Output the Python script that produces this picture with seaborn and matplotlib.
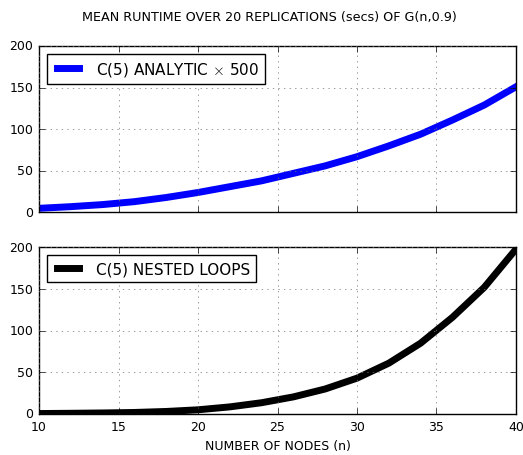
import matplotlib
matplotlib.use("Agg")
import matplotlib.pyplot as plt
import numpy as np
import pandas as pd
import seaborn as sns

# graph sizes n used in the runs
nodes = [10, 12, 14, 16, 18, 20, 22, 24, 26, 28, 30, 32, 34, 36, 38, 40]
# mean runtime (secs), analytic version scaled by 500
analytic_x500 = [5, 7, 9.5, 13, 18, 24, 31, 38, 47, 56, 67, 80, 94, 111, 129, 151]
# mean runtime (secs), nested loops version
nested_loops = [0.5, 0.8, 1.2, 1.8, 3, 5, 8.5, 13.5, 20.5, 30, 43, 61, 85, 116, 152, 198]

df = pd.DataFrame({"n": nodes, "analytic": analytic_x500, "nested": nested_loops})

plt.style.use("classic")
plt.rcParams["font.size"] = 9
plt.rcParams["figure.facecolor"] = "white"
plt.rcParams["savefig.facecolor"] = "white"
plt.rcParams["grid.color"] = "0.45"

fig, (ax1, ax2) = plt.subplots(2, 1, sharex=True, figsize=(5.23, 4.56), dpi=100)
fig.subplots_adjust(left=0.0746, right=0.9866, top=0.897, bottom=0.090, hspace=0.21)

sns.lineplot(data=df, x="n", y="analytic", ax=ax1, color="blue", lw=5,
             label=r"C(5) ANALYTIC $\times$ 500")
sns.lineplot(data=df, x="n", y="nested", ax=ax2, color="black", lw=5,
             label="C(5) NESTED LOOPS")

for ax in (ax1, ax2):
    ax.set_xlim(10, 40)
    ax.set_ylim(0, 200)
    ax.set_yticks([0, 50, 100, 150, 200])
    ax.grid(True)
    ax.set_ylabel("")
    ax.legend(loc="upper left", fontsize=11)

ax1.set_xlabel("")
ax2.set_xlabel("NUMBER OF NODES (n)")
ax2.set_xticks([10, 15, 20, 25, 30, 35, 40])
fig.suptitle("MEAN RUNTIME OVER 20 REPLICATIONS (secs) OF G(n,0.9)", fontsize=9.2,
             x=0.516, y=0.975)

fig.savefig("out.png", dpi=100)
